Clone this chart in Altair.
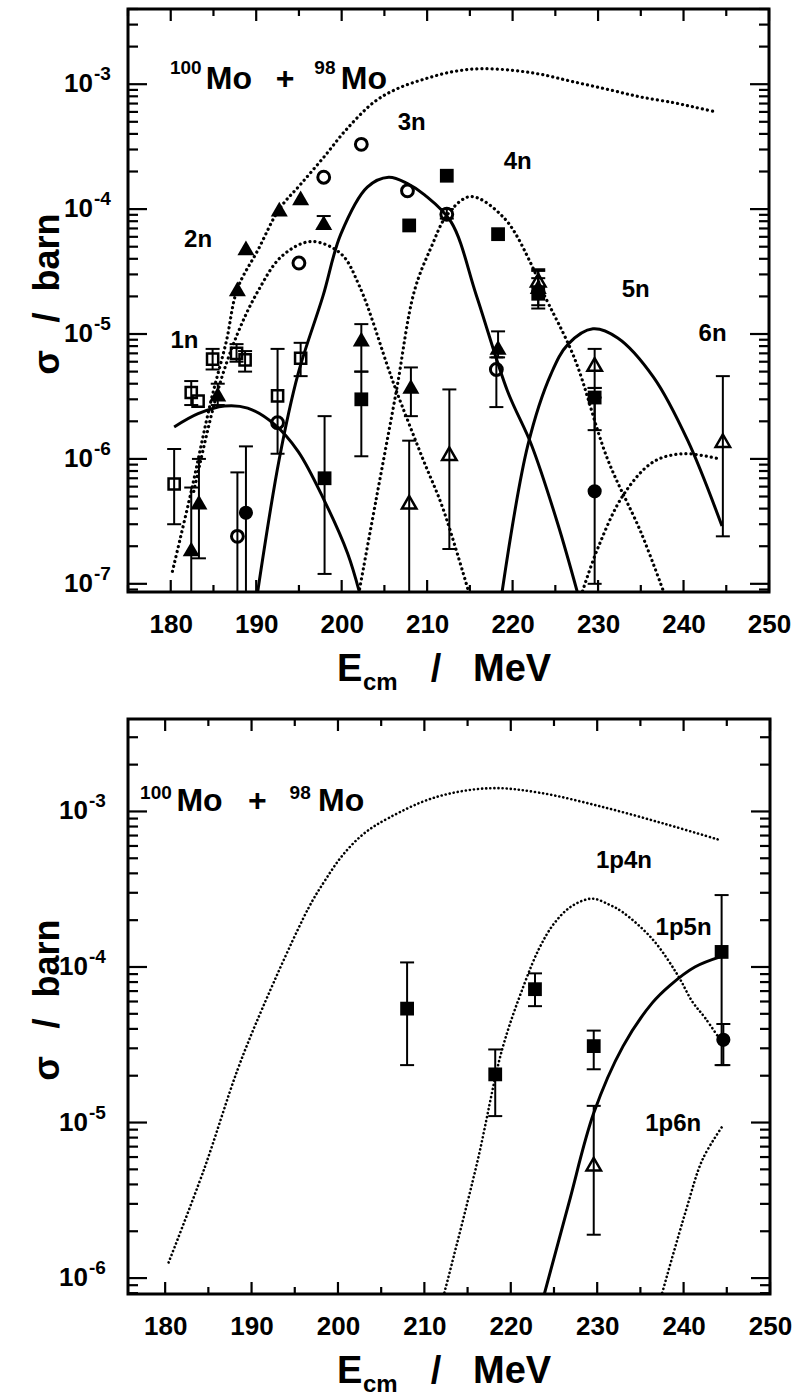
import altair as alt
import pandas as pd

FONT = "Liberation Sans, Arial, Helvetica, sans-serif"

# ---------------- shared tick values ----------------
x_major = [180, 190, 200, 210, 220, 230, 240, 250]
x_minor = [175, 185, 195, 205, 215, 225, 235, 245]
y_minor_mult = [2, 3, 4, 5, 6, 7, 8, 9]

# ---------------- top panel ----------------
top_x_domain = [175.0, 250.0]
top_y_domain = [8.6e-8, 4.0e-3]
top_decades = [1e-3, 1e-4, 1e-5, 1e-6, 1e-7]
top_decade_exp = ["-3", "-4", "-5", "-6", "-7"]

top_fus_E = [180.2, 182.4, 184.7, 186.5, 187.8, 190.2, 192.7, 195.2, 197.9, 200.5, 203.8, 206.5,
             209.7, 213.0, 216.3, 220.0, 223.3, 227.0, 231.1, 235.0, 238.9, 241.5, 243.8]
top_fus_s = [1.26e-7, 5.5e-7, 2.9e-6, 8.7e-6, 2.3e-5, 4.7e-5, 1.0e-4, 1.58e-4, 2.6e-4, 4.3e-4, 7.2e-4, 9.2e-4,
             1.1e-3, 1.26e-3, 1.33e-3, 1.29e-3, 1.2e-3, 1.05e-3, 9.1e-4, 7.9e-4, 7.1e-4, 6.5e-4, 6.0e-4]
top_1n_E = [180.4, 183.2, 186.3, 189.0, 192.1, 194.9, 198.0, 200.7, 202.2]
top_1n_s = [1.8e-6, 2.3e-6, 2.65e-6, 2.55e-6, 1.9e-6, 1.15e-6, 4.6e-7, 1.75e-7, 8.0e-8]
top_2n_E = [182.7, 185.5, 187.8, 190.2, 193.0, 196.4, 199.9, 202.1, 205.5, 206.4, 209.5, 211.8, 215.0]
top_2n_s = [5.5e-7, 3.5e-6, 1.0e-5, 2.2e-5, 4.2e-5, 5.5e-5, 4.4e-5, 2.4e-5, 5.2e-6, 3.5e-6, 1.0e-6, 4.1e-7, 8.0e-8]
top_3n_E = [190.1, 192.7, 194.9, 197.8, 199.9, 203.0, 205.5, 207.7, 209.7, 212.8, 215.8, 219.4, 222.2, 225.3, 227.7]
top_3n_s = [8.0e-8, 1.0e-6, 4.8e-6, 2.0e-5, 6.3e-5, 1.5e-4, 1.8e-4, 1.6e-4, 1.3e-4, 7.9e-5, 2.0e-5, 3.5e-6, 1.3e-6, 3.0e-7, 8.0e-8]
top_4n_E = [202.1, 204.0, 206.4, 208.5, 210.5, 212.4, 215.1, 219.0, 222.2, 223.5, 227.2, 231.1, 235.0, 237.6]
top_4n_s = [9.1e-8, 4.6e-7, 3.5e-6, 2.2e-5, 5.0e-5, 9.1e-5, 1.26e-4, 8.5e-5, 3.6e-5, 2.2e-5, 6.5e-6, 1.0e-6, 2.6e-7, 8.9e-8]
top_5n_E = [218.7, 221.8, 224.5, 226.5, 229.4, 232.3, 236.5, 240.5, 244.5]
top_5n_s = [8.0e-8, 1.3e-6, 4.8e-6, 8.3e-6, 1.1e-5, 9.3e-6, 4.5e-6, 1.4e-6, 2.9e-7]
top_6n_E = [228.0, 230.0, 233.0, 236.5, 240.0, 244.2]
top_6n_s = [8.0e-8, 1.95e-7, 5.2e-7, 9.5e-7, 1.1e-6, 1.0e-6]

top_pt_E = [180.4, 182.4, 183.2, 184.9, 187.7, 188.7, 192.5, 195.2,
            182.4, 183.3, 185.5, 187.8, 188.8, 192.7, 195.2, 197.9, 202.3, 208.1, 218.3, 223.0,
            187.8, 192.5, 195.0, 197.9, 202.3, 207.7, 212.3, 218.1,
            198.0, 202.3, 207.9, 212.3, 218.3, 223.0, 229.6,
            207.9, 212.6, 223.0, 229.6, 244.6,
            188.8, 229.6]
top_pt_s = [6.3e-7, 3.4e-6, 2.9e-6, 6.3e-6, 7.0e-6, 6.2e-6, 3.2e-6, 6.4e-6,
            1.9e-7, 4.5e-7, 3.3e-6, 2.3e-5, 4.9e-5, 1.0e-4, 1.23e-4, 7.8e-5, 9.1e-6, 3.8e-6, 7.8e-6, 2.4e-5,
            2.4e-7, 1.95e-6, 3.7e-5, 1.8e-4, 3.3e-4, 1.4e-4, 9.1e-5, 5.2e-6,
            7.0e-7, 3.0e-6, 7.4e-5, 1.85e-4, 6.3e-5, 2.1e-5, 3.1e-6,
            4.5e-7, 1.1e-6, 2.7e-5, 5.7e-6, 1.4e-6,
            3.7e-7, 5.5e-7]
top_pt_lo = [3.0e-7, 2.7e-6, None, 5.2e-6, 6.0e-6, 5.0e-6, 1.1e-6, 4.6e-6,
             5e-8, 1.6e-7, 2.7e-6, None, None, None, None, 7.0e-5, 5.0e-6, 2.2e-6, 6.5e-6, 1.7e-5,
             5e-8, None, None, None, None, None, 8.4e-5, 2.6e-6,
             1.2e-7, 1.05e-6, None, None, None, 1.6e-5, 1.7e-6,
             5e-8, 1.9e-7, 2.2e-5, 3.7e-6, 2.4e-7,
             5e-8, 1.0e-7]
top_pt_hi = [1.2e-6, 4.2e-6, None, 7.6e-6, 8.3e-6, 7.3e-6, 7.6e-6, 8.5e-6,
             5.9e-7, 1.0e-6, 4.0e-6, None, None, None, None, 8.8e-5, 1.2e-5, 5.4e-6, 1.05e-5, 3.2e-5,
             7.8e-7, None, None, None, None, None, 1.0e-4, 6.5e-6,
             2.2e-6, 5.0e-6, None, None, None, 2.8e-5, 3.7e-6,
             1.4e-6, 3.6e-6, 3.3e-5, 7.6e-6, 4.6e-6,
             1.26e-6, 3.1e-6]
top_pt_sym = (["sq_o"] * 8 + ["tri_f"] * 12 + ["circ_o"] * 8 + ["sq_f"] * 7 + ["tri_o"] * 5 + ["circ_f"] * 2)

top_lab_text = ["1n", "2n", "3n", "4n", "5n", "6n"]
top_lab_E = [181.6, 183.2, 208.2, 220.6, 234.4, 243.4]
top_lab_s = [8.8e-6, 5.65e-5, 4.9e-4, 2.4e-4, 2.25e-5, 1.0e-5]
top_sup_text = ["100", "98"]
top_sup_E = [179.9, 196.8]
top_sup_s = [1.2e-3, 1.2e-3]
top_big_text = ["Mo", "+", "Mo"]
top_big_E = [184.1, 192.3, 199.9]
top_big_s = [9.1e-4, 9.1e-4, 9.1e-4]

# ---------------- bottom panel ----------------
bot_x_domain = [175.7, 250.0]
bot_y_domain = [7.9e-7, 3.93e-3]
bot_decades = [1e-3, 1e-4, 1e-5, 1e-6]
bot_decade_exp = ["-3", "-4", "-5", "-6"]

bot_fus_E = [180.4, 184.5, 188.4, 191.3, 196.6, 198.5, 200.5, 203.0, 205.9, 211.2, 217.5, 223.3, 230.6, 237.9, 244.0]
bot_fus_s = [1.26e-6, 5.0e-6, 2.2e-5, 5.5e-5, 2.4e-4, 3.6e-4, 5.2e-4, 7.2e-4, 9.1e-4, 1.23e-3, 1.41e-3, 1.32e-3,
             1.07e-3, 8.3e-4, 6.6e-4]
bot_1p4n_E = [212.2, 216.1, 219.0, 221.5, 223.3, 225.0, 227.0, 229.4, 231.5, 233.0, 236.4, 239.3, 241.0, 242.5, 244.4]
bot_1p4n_s = [7.6e-7, 5.5e-6, 2.95e-5, 7.6e-5, 1.32e-4, 1.9e-4, 2.45e-4, 2.75e-4, 2.5e-4, 2.24e-4, 1.51e-4, 8.9e-5,
              6.0e-5, 4.7e-5, 3.3e-5]
bot_1p5n_E = [223.8, 226.7, 229.6, 233.0, 236.4, 238.4, 241.3, 244.4]
bot_1p5n_s = [7.6e-7, 3.0e-6, 1.15e-5, 3.1e-5, 5.9e-5, 7.6e-5, 1.0e-4, 1.17e-4]
bot_1p6n_E = [237.4, 240.3, 242.2, 244.4]
bot_1p6n_s = [7.6e-7, 2.75e-6, 5.8e-6, 9.3e-6]

bot_pt_E = [208.0, 218.2, 222.8, 229.6, 244.4, 229.6, 244.6]
bot_pt_s = [5.4e-5, 2.04e-5, 7.2e-5, 3.1e-5, 1.25e-4, 5.4e-6, 3.4e-5]
bot_pt_lo = [2.34e-5, 1.1e-5, 5.6e-5, 2.2e-5, 2.34e-5, 1.9e-6, 2.34e-5]
bot_pt_hi = [1.07e-4, 2.95e-5, 9.1e-5, 3.9e-5, 2.9e-4, 1.28e-5, 4.3e-5]
bot_pt_sym = ["sq_f"] * 5 + ["tri_o", "circ_f"]

bot_lab_text = ["1p4n", "1p5n", "1p6n"]
bot_lab_E = [233.1, 240.0, 238.8]
bot_lab_s = [4.8e-4, 1.78e-4, 9.8e-6]
bot_sup_text = ["100", "98"]
bot_sup_E = [177.1, 194.4]
bot_sup_s = [1.21e-3, 1.21e-3]
bot_big_text = ["Mo", "+", "Mo"]
bot_big_E = [181.3, 189.6, 197.7]
bot_big_s = [1.0e-3, 1.0e-3, 1.0e-3]

SYM = {
    "sq_o": dict(shape="square", filled=False, size=125, strokeWidth=2.5),
    "sq_f": dict(shape="square", filled=True, size=190),
    "tri_f": dict(shape="triangle-up", filled=True, size=290),
    "tri_o": dict(shape="triangle-up", filled=False, size=210, strokeWidth=2.5),
    "circ_o": dict(shape="circle", filled=False, size=140, strokeWidth=3),
    "circ_f": dict(shape="circle", filled=True, size=200),
}


def curve_frame(items):
    rows = []
    for name, E, s in items:
        for e, v in zip(E, s):
            rows.append({"curve": name, "E": e, "s": v})
    return pd.DataFrame(rows)


def make_panel(W, H, xdom, ydom, decades, exps, dotted, solid, pts, labs, sups, bigs,
               dash, dot_w, ylab_x, pin=False):
    xs = alt.Scale(domain=xdom, nice=False, zero=False)
    ys = alt.Scale(type="log", domain=ydom, nice=False)
    xaxis = alt.Axis(values=x_major, ticks=False, tickSize=0, domain=False, grid=False,
                     labelFont=FONT, labelFontSize=26, labelFontWeight="bold", labelColor="black",
                     labelPadding=19, labelFlush=False, labelOverlap=False, title=None)

    def X(f):
        return alt.X(f, type="quantitative", scale=xs, axis=xaxis)

    def Y(f):
        return alt.Y(f, type="quantitative", scale=ys, axis=None)

    layers = []
    if pin:
        layers.append(alt.Chart(pd.DataFrame({"a": [0]})).mark_rule(opacity=0, strokeWidth=1).encode(
            x=alt.value(-126.5), x2=alt.value(-126.5), y=alt.value(-7.5), y2=alt.value(-6.5)))

    ddf = curve_frame(dotted)
    sdf = curve_frame(solid)
    layers.append(alt.Chart(ddf).mark_line(strokeDash=dash, strokeCap="round", strokeWidth=dot_w,
                                           color="black", clip=True, interpolate="catmull-rom").encode(
        X("E"), Y("s"), detail="curve:N", order="E:Q"))
    layers.append(alt.Chart(sdf).mark_line(strokeWidth=3, color="black", clip=True,
                                           interpolate="catmull-rom").encode(
        X("E"), Y("s"), detail="curve:N", order="E:Q"))

    pdf = pd.DataFrame({"E": pts[0], "s": pts[1], "lo": pts[2], "hi": pts[3], "sym": pts[4]})
    eb = alt.Chart(pdf).transform_filter("isValid(datum.lo)")
    layers.append(eb.mark_rule(strokeWidth=2, color="black", clip=True).encode(
        X("E"), Y("lo"), y2="hi"))
    for f in ["lo", "hi"]:
        layers.append(eb.mark_rule(strokeWidth=2, color="black", clip=True, xOffset=-7, x2Offset=7).encode(
            X("E"), x2="E", y=Y(f)))
    for key, st in SYM.items():
        layers.append(alt.Chart(pdf).transform_filter(alt.datum.sym == key).mark_point(
            color="black", opacity=1, clip=True, **st).encode(X("E"), Y("s")))

    # frame ticks (pointing inward on all four sides)
    lo_, hi_ = xdom
    xmaj = pd.DataFrame({"v": [v for v in x_major if lo_ <= v <= hi_]})
    xmin = pd.DataFrame({"v": [v for v in x_minor if lo_ <= v <= hi_]})
    ymaj = pd.DataFrame({"v": decades})
    yminv = []
    for d in [1e-8, 1e-7, 1e-6, 1e-5, 1e-4, 1e-3]:
        for m in y_minor_mult:
            v = m * d
            if ydom[0] <= v <= ydom[1]:
                yminv.append(v)
    ymin = pd.DataFrame({"v": yminv})
    for df, L in [(xmaj, 12), (xmin, 7)]:
        base = alt.Chart(df).mark_rule(strokeWidth=2.2, color="black")
        layers.append(base.encode(X("v"), y=alt.value(H), y2=alt.value(H - L)))
        layers.append(base.encode(X("v"), y=alt.value(0), y2=alt.value(L)))
    for df, L in [(ymaj, 19), (ymin, 10)]:
        base = alt.Chart(df).mark_rule(strokeWidth=2.2, color="black")
        layers.append(base.encode(Y("v"), x=alt.value(0), x2=alt.value(L)))
        layers.append(base.encode(Y("v"), x=alt.value(W), x2=alt.value(W - L)))

    # y tick labels 10^n
    ddec = pd.DataFrame({"v": decades, "e": exps})
    layers.append(alt.Chart(ddec).mark_text(align="right", baseline="middle", font=FONT, fontSize=26,
                                            fontWeight="bold", color="black", text="10").encode(
        Y("v"), x=alt.value(ylab_x)))
    layers.append(alt.Chart(ddec).mark_text(align="left", baseline="middle", font=FONT, fontSize=19,
                                            fontWeight="bold", color="black", dy=-10).encode(
        Y("v"), x=alt.value(ylab_x + 1), text="e:N"))

    # channel labels and reaction label
    ldf = pd.DataFrame({"E": labs[0], "s": labs[1], "t": labs[2]})
    layers.append(alt.Chart(ldf).mark_text(align="center", baseline="middle", font=FONT, fontSize=24,
                                           fontWeight="bold", color="black").encode(X("E"), Y("s"), text="t:N"))
    sdf2 = pd.DataFrame({"E": sups[0], "s": sups[1], "t": sups[2]})
    layers.append(alt.Chart(sdf2).mark_text(align="left", baseline="alphabetic", font=FONT, fontSize=19,
                                            fontWeight="bold", color="black").encode(X("E"), Y("s"), text="t:N"))
    bdf = pd.DataFrame({"E": bigs[0], "s": bigs[1], "t": bigs[2]})
    layers.append(alt.Chart(bdf).mark_text(align="left", baseline="alphabetic", font=FONT, fontSize=32,
                                           fontWeight="bold", color="black").encode(X("E"), Y("s"), text="t:N"))

    # axis titles (text pieces placed relative to the plot frame)
    one = pd.DataFrame({"a": [0]})

    def txt(t, x, y, size, align="left", angle=0, baseline="alphabetic"):
        return alt.Chart(one).mark_text(text=t, align=align, baseline=baseline, font=FONT, fontSize=size,
                                        fontWeight="bold", color="black", angle=angle).encode(
            x=alt.value(x), y=alt.value(y))

    layers.append(txt("E", 209, H + 89, 38))
    layers.append(txt("cm", 235, H + 98, 24))
    layers.append(txt("/", 308, H + 89, 38, align="center"))
    layers.append(txt("MeV", 345, H + 89, 38))
    layers.append(txt("barn", -80, H / 2 - 48, 36, align="center", angle=270, baseline="middle"))
    layers.append(txt("/", -80, H / 2 + 17, 36, align="center", angle=270, baseline="middle"))
    layers.append(txt("σ", -80, H / 2 + 62, 36, align="center", angle=270, baseline="middle"))

    return alt.layer(*layers).properties(width=W, height=H)


top = make_panel(
    641, 583, top_x_domain, top_y_domain, top_decades, top_decade_exp,
    dotted=[("fus", top_fus_E, top_fus_s), ("2n", top_2n_E, top_2n_s), ("4n", top_4n_E, top_4n_s),
            ("6n", top_6n_E, top_6n_s)],
    solid=[("1n", top_1n_E, top_1n_s), ("3n", top_3n_E, top_3n_s), ("5n", top_5n_E, top_5n_s)],
    pts=(top_pt_E, top_pt_s, top_pt_lo, top_pt_hi, top_pt_sym),
    labs=(top_lab_E, top_lab_s, top_lab_text),
    sups=(top_sup_E, top_sup_s, top_sup_text),
    bigs=(top_big_E, top_big_s, top_big_text),
    dash=[0.1, 5.0], dot_w=3.2, ylab_x=-35, pin=True)

bottom = make_panel(
    642, 575, bot_x_domain, bot_y_domain, bot_decades, bot_decade_exp,
    dotted=[("fus", bot_fus_E, bot_fus_s), ("1p4n", bot_1p4n_E, bot_1p4n_s), ("1p6n", bot_1p6n_E, bot_1p6n_s)],
    solid=[("1p5n", bot_1p5n_E, bot_1p5n_s)],
    pts=(bot_pt_E, bot_pt_s, bot_pt_lo, bot_pt_hi, bot_pt_sym),
    labs=(bot_lab_E, bot_lab_s, bot_lab_text),
    sups=(bot_sup_E, bot_sup_s, bot_sup_text),
    bigs=(bot_big_E, bot_big_s, bot_big_text),
    dash=[0.1, 4.0], dot_w=2.6, ylab_x=-40)

chart = alt.vconcat(top, bottom, spacing=127, bounds="flush").properties(
    padding=0, background="white"
).configure_view(stroke="black", strokeWidth=3)

chart.save("out.html", embed_options={"renderer": "svg", "actions": False})
